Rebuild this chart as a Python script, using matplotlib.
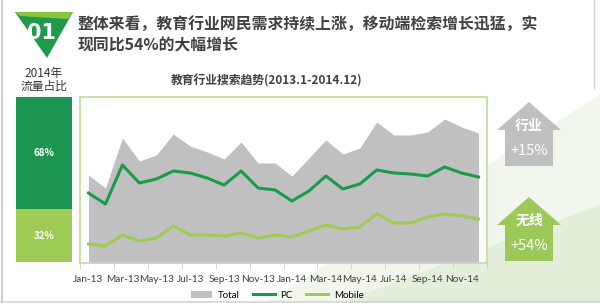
import numpy as np
import matplotlib
matplotlib.use('Agg')
import matplotlib.pyplot as plt
from matplotlib.patches import Polygon, Patch
from matplotlib.lines import Line2D

plt.rcParams['font.family'] = ['Noto Sans CJK SC', 'DejaVu Sans']

###############################################################################
# Data (arbitrary index units)
months = ['Jan-13', 'Feb-13', 'Mar-13', 'Apr-13', 'May-13', 'Jun-13',
          'Jul-13', 'Aug-13', 'Sep-13', 'Oct-13', 'Nov-13', 'Dec-13',
          'Jan-14', 'Feb-14', 'Mar-14', 'Apr-14', 'May-14', 'Jun-14',
          'Jul-14', 'Aug-14', 'Sep-14', 'Oct-14', 'Nov-14', 'Dec-14']
total = [88, 75, 125, 102, 108, 129, 117, 111, 104, 121, 100, 100,
         87, 105, 123, 109, 115, 141, 128, 128, 131, 144, 136, 130]
pc = [70, 59, 98, 80, 84, 92, 90, 85, 78, 92, 75, 73,
      62, 72, 87, 74, 79, 93, 90, 89, 87, 96, 90, 86]
mobile = [19, 17, 28, 22, 25, 37, 28, 28, 27, 30, 25, 28,
          26, 32, 38, 34, 36, 49, 40, 40, 46, 49, 47, 44]
series_names = ['Total', 'PC', 'Mobile']

share = [68, 32]          # 2014 traffic share: PC, mobile
share_labels = ['68%', '32%']
growth_labels = [('行业', '+15%'), ('无线', '+54%')]

heading = ['整体来看，教育行业网民需求持续上涨，移动端检索增长迅猛，实',
           '现同比54%的大幅增长']
chart_title = '教育行业搜索趋势(2013.1-2014.12)'

###############################################################################
# Colours
c_total = '#c0c0c0'
c_pc = '#1b9a4b'
c_mobile = '#9dcb55'
c_dark = '#1b9550'
c_text = '#404040'

W, H = 600, 303
fig = plt.figure(figsize=(6, 3.03), dpi=100)
fig.patch.set_facecolor('white')


def fbox(x0, y0, x1, y1):
    return [x0 / W, 1 - y1 / H, (x1 - x0) / W, (y1 - y0) / H]


# background / decoration layer in pixel coordinates
bg = fig.add_axes([0, 0, 1, 1])
bg.set_xlim(0, W)
bg.set_ylim(H, 0)
bg.axis('off')
bg.add_patch(Polygon([(265, 303), (600, 95), (600, 303)], closed=True,
                     fc='#f1f7ec', ec='none'))
bg.add_patch(Polygon([(340, 303), (600, 205), (600, 303)], closed=True,
                     fc='#e3efdb', ec='none'))

# numbered icon
bg.add_patch(Polygon([(15, 12), (73, 12), (47, 58)], closed=True,
                     fc='#1e9a4a', ec='none'))
bg.add_patch(Polygon([(15, 12), (73, 12), (68, 19), (20, 16)], closed=True,
                     fc='#8cc63f', ec='none'))
bg.text(42, 33, '01', color='white', fontsize=15, fontweight='bold',
        ha='center', va='center', family=['Liberation Sans Narrow', 'DejaVu Sans'])

# heading
bg.text(78, 25, heading[0], fontsize=11.4, fontweight='bold', color=c_text,
        ha='left', va='center')
bg.text(78, 45, heading[1], fontsize=11.4, fontweight='bold', color=c_text,
        ha='left', va='center')

bg.text(267, 81, chart_title, fontsize=8.5, fontweight='bold', color=c_text,
        ha='center', va='center')
bg.text(44, 73, '2014年', fontsize=8.5, color='#333333', ha='center', va='center')
bg.text(44, 86, '流量占比', fontsize=8.5, color='#333333', ha='center', va='center')

# growth arrows
for (top, col), (name, val) in zip([(102, c_total), (197, '#9dc95a')], growth_labels):
    bg.add_patch(Polygon([(529, top), (561, top + 28), (553, top + 28),
                          (553, top + 64), (505, top + 64), (505, top + 28),
                          (497, top + 28)], closed=True, fc=col, ec='none'))
    bg.text(529, top + 24, name, color='white', fontsize=10, fontweight='bold',
            ha='center', va='center')
    bg.text(529, top + 49, val, color='white', fontsize=10.5,
            ha='center', va='center')

###############################################################################
# Share bar
axs = fig.add_axes(fbox(16, 97, 72, 262))
axs.bar([0], [share[1]], width=1, color=c_mobile, align='edge')
axs.bar([0], [share[0]], width=1, bottom=[share[1]], color=c_dark, align='edge')
axs.text(0.5, share[1] + share[0] / 2, share_labels[0], color='white',
         fontsize=7, fontweight='bold', ha='center', va='center')
axs.text(0.5, share[1] / 2, share_labels[1], color='white',
         fontsize=7, fontweight='bold', ha='center', va='center')
axs.set_xlim(0, 1)
axs.set_ylim(0, 100)
axs.axis('off')

###############################################################################
# Trend chart
ax = fig.add_axes(fbox(80, 97, 487, 263))
x = np.arange(len(months))
ax.fill_between(x, total, color=c_total, lw=0, label=series_names[0])
ax.plot(x, pc, color=c_pc, lw=2.2, label=series_names[1])
ax.plot(x, mobile, color=c_mobile, lw=2.2, label=series_names[2])
ax.set_xlim(-0.5, len(months) - 0.5)
ax.set_ylim(0, 166)
ax.set_yticks([])
ax.set_xticks(x[::2])
ax.set_xticklabels(months[::2], fontsize=7.2, color=c_text,
                   family=['Lato', 'DejaVu Sans'])
ax.set_xticks(np.arange(-0.5, len(months), 2), minor=True)
ax.tick_params(axis='x', which='major', length=0, pad=9)
ax.tick_params(axis='x', which='minor', length=4, color='#d0d0d0')
for s in ['left', 'top', 'right']:
    ax.spines[s].set_color('#c8e2a8')
    ax.spines[s].set_linewidth(1.5)
ax.spines['bottom'].set_color('#d0d0d0')
ax.spines['bottom'].set_linewidth(1.2)

handles = [Patch(fc=c_total, ec='none'),
           Line2D([], [], color=c_pc, lw=2.2),
           Line2D([], [], color=c_mobile, lw=2.2)]
fig.legend(handles, series_names, loc='center', bbox_to_anchor=(277 / W, 1 - 295 / H),
           ncol=3, frameon=False, handlelength=2.2, columnspacing=1.4,
           handletextpad=0.6, borderpad=0.1,
           prop={'family': ['Lato', 'DejaVu Sans'], 'size': 7})

# frame lines
fig.add_artist(Line2D([1.5 / W, 1.5 / W], [0, 1], color='#c4c4c4', lw=1.2,
                      transform=fig.transFigure, zorder=10))
fig.add_artist(Line2D([0, 1], [1 / H, 1 / H], color='#d4d4d4', lw=1.2,
                      transform=fig.transFigure, zorder=10))
fig.add_artist(Line2D([594 / W, 594 / W], [1, 1 - 88 / H], color='#d8d8d8', lw=1,
                      transform=fig.transFigure, zorder=10))

fig.savefig('out.png', dpi=100, facecolor='white')
